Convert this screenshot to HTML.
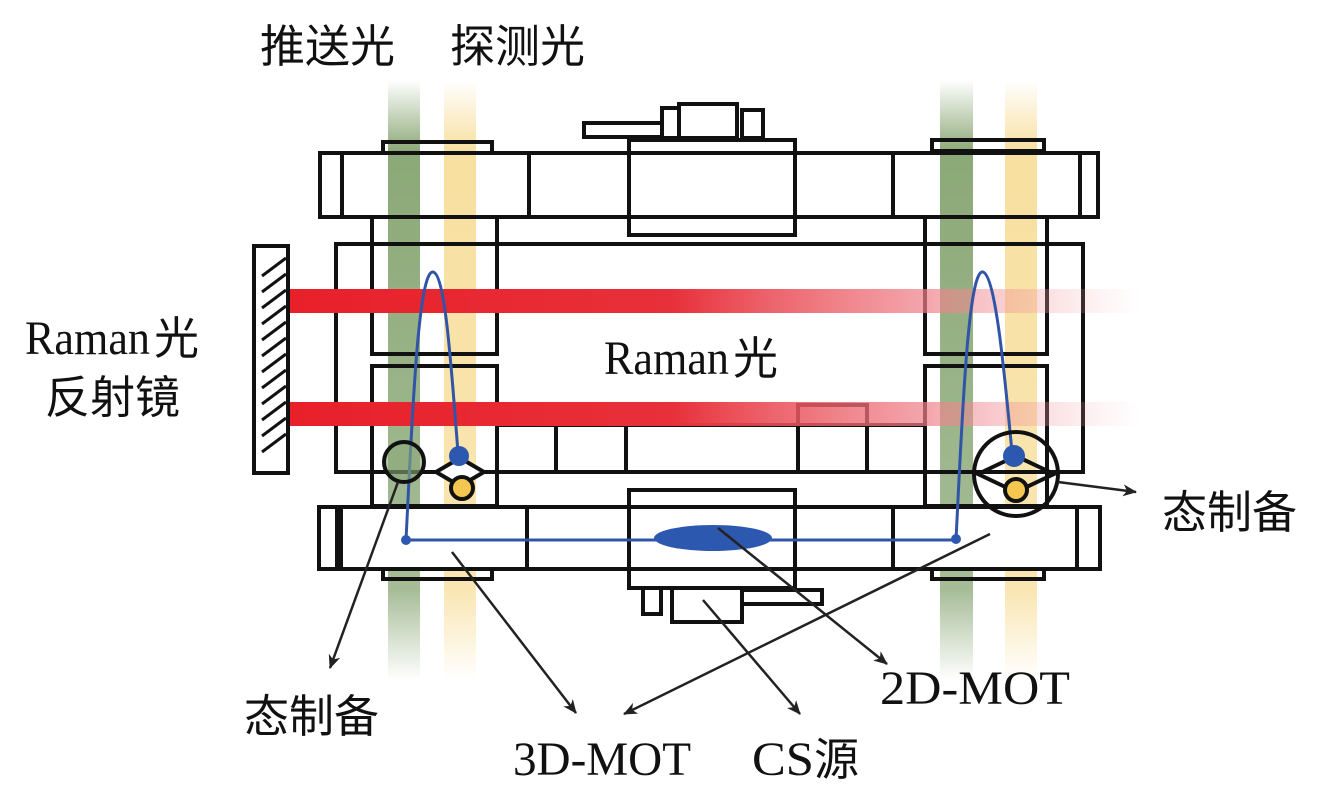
<!DOCTYPE html>
<html><head><meta charset="utf-8"><style>
html,body{margin:0;padding:0;background:#fff;}
svg{display:block;}
.s{font-family:"Liberation Serif","Noto Serif CJK SC",serif;}
.c{font-family:"Liberation Sans","Noto Sans CJK SC",sans-serif;font-weight:normal;}
</style></head><body>
<svg width="1327" height="812" viewBox="0 0 1327 812" xmlns="http://www.w3.org/2000/svg">
<defs>
<linearGradient id="gv" x1="0" y1="0" x2="0" y2="1">
<stop offset="0" stop-color="#4d7a2e" stop-opacity="0"/>
<stop offset="0.12" stop-color="#4d7a2e" stop-opacity="0.65"/>
<stop offset="0.85" stop-color="#4d7a2e" stop-opacity="0.5"/>
<stop offset="1" stop-color="#4d7a2e" stop-opacity="0"/>
</linearGradient>
<linearGradient id="yv" x1="0" y1="0" x2="0" y2="1">
<stop offset="0" stop-color="#f0c040" stop-opacity="0"/>
<stop offset="0.12" stop-color="#f0c040" stop-opacity="0.5"/>
<stop offset="0.85" stop-color="#f0c040" stop-opacity="0.4"/>
<stop offset="1" stop-color="#f0c040" stop-opacity="0"/>
</linearGradient>
<linearGradient id="rh" x1="0" y1="0" x2="1" y2="0">
<stop offset="0" stop-color="#e8202a"/>
<stop offset="0.45" stop-color="#e8303a"/>
<stop offset="0.75" stop-color="#ee8088" stop-opacity="0.7"/>
<stop offset="1" stop-color="#f4b0b8" stop-opacity="0"/>
</linearGradient>
<marker id="ah" markerWidth="14" markerHeight="12" refX="13" refY="6" orient="auto" markerUnits="userSpaceOnUse">
<path d="M0,0 L14,6 L0,12 L4,6 Z" fill="#222"/>
</marker>
</defs>

<rect x="388" y="80" width="32" height="600" fill="url(#gv)"/>
<rect x="444" y="80" width="32" height="600" fill="url(#yv)"/>
<rect x="940" y="80" width="33" height="600" fill="url(#gv)"/>
<rect x="1005" y="80" width="32" height="600" fill="url(#yv)"/>

<g fill="none" stroke="#111" stroke-width="4">
<rect x="584" y="123" width="78" height="14"/>
<rect x="662" y="108" width="17" height="30"/>
<rect x="679" y="104" width="58" height="34"/>
<rect x="742" y="110" width="21" height="28"/>
<rect x="383" y="142" width="109" height="11"/>
<rect x="932" y="140" width="112" height="11"/>
<rect x="320" y="153" width="778" height="64"/>
<line x1="342" y1="153" x2="342" y2="217"/>
<line x1="529" y1="153" x2="529" y2="217"/>
<line x1="893" y1="153" x2="893" y2="217"/>
<line x1="1080" y1="153" x2="1080" y2="217"/>
<rect x="629" y="140" width="166" height="95" fill="#fff"/>
<line x1="629" y1="153" x2="795" y2="153"/>
<line x1="629" y1="217" x2="795" y2="217"/>
<rect x="336" y="244" width="747" height="228"/>
<rect x="372" y="217" width="125" height="137"/>
<rect x="372" y="366" width="125" height="140"/>
<rect x="925" y="217" width="122" height="137"/>
<rect x="925" y="366" width="122" height="140"/>
<line x1="497" y1="425" x2="925" y2="425"/>
<line x1="556" y1="425" x2="556" y2="472"/>
<line x1="626" y1="405" x2="626" y2="472"/>
<rect x="798" y="405" width="69" height="67"/>
<rect x="254" y="246" width="34" height="227"/>
<rect x="319" y="507" width="781" height="62" fill="#fff"/>
<line x1="339" y1="507" x2="339" y2="569" stroke-width="8"/>
<line x1="527" y1="507" x2="527" y2="569"/>
<line x1="893" y1="507" x2="893" y2="569"/>
<line x1="1077" y1="507" x2="1077" y2="569"/>
<rect x="629" y="490" width="166" height="98" fill="#fff"/>
<line x1="629" y1="507" x2="795" y2="507"/>
<line x1="629" y1="569" x2="795" y2="569"/>
<rect x="383" y="569" width="109" height="10"/>
<rect x="932" y="569" width="112" height="10"/>
<rect x="643" y="588" width="18" height="26"/>
<rect x="672" y="588" width="70" height="34"/>
<rect x="742" y="590" width="80" height="14"/>
</g>
<g stroke="#111" stroke-width="3">
<line x1="286" y1="258" x2="262" y2="276"/><line x1="286" y1="274" x2="262" y2="292"/>
<line x1="286" y1="290" x2="262" y2="308"/><line x1="286" y1="306" x2="262" y2="324"/>
<line x1="286" y1="322" x2="262" y2="340"/><line x1="286" y1="338" x2="262" y2="356"/>
<line x1="286" y1="354" x2="262" y2="372"/><line x1="286" y1="370" x2="262" y2="388"/>
<line x1="286" y1="386" x2="262" y2="404"/><line x1="286" y1="402" x2="262" y2="420"/>
<line x1="286" y1="418" x2="262" y2="436"/><line x1="286" y1="434" x2="262" y2="452"/>
</g>
<rect x="290" y="289" width="850" height="24" fill="url(#rh)"/>
<rect x="290" y="402" width="850" height="24" fill="url(#rh)"/>
<g fill="none" stroke="#2f54a8" stroke-width="3">
<path d="M406,540 C412,420 418,270 433,272 C446,274 452,380 458,452"/>
<path d="M956,540 C962,420 968,268 983,272 C996,276 1005,380 1012,452"/>
<line x1="406" y1="540" x2="956" y2="540"/>
</g>
<ellipse cx="713" cy="538" rx="59" ry="13" fill="#2d58b0"/>
<circle cx="406" cy="540" r="5" fill="#2d58b0"/>
<circle cx="956" cy="539" r="5" fill="#2d58b0"/>
<circle cx="404" cy="462" r="20" fill="#8aa878" fill-opacity="0.6" stroke="#111" stroke-width="4"/>
<path d="M436,472 L460,458 L484,472 L460,486 Z" fill="#fff" stroke="#111" stroke-width="4"/>
<circle cx="462" cy="488" r="11" fill="#f4c850" stroke="#111" stroke-width="4"/>
<circle cx="459" cy="456" r="10" fill="#2d58b0"/>
<circle cx="1016" cy="474" r="42" fill="none" stroke="#111" stroke-width="4"/>
<path d="M978,474 L1016,456 L1054,474 L1016,492 Z" fill="none" stroke="#111" stroke-width="4"/>
<circle cx="1016" cy="490" r="11" fill="#f4c850" stroke="#111" stroke-width="4"/>
<circle cx="1014" cy="456" r="11" fill="#2d58b0"/>
<g stroke="#222" stroke-width="2.5" fill="none" marker-end="url(#ah)">
<line x1="398" y1="482" x2="330" y2="668"/>
<line x1="452" y1="552" x2="576" y2="713"/>
<line x1="990" y1="534" x2="624" y2="714"/>
<line x1="718" y1="528" x2="887" y2="664"/>
<line x1="703" y1="600" x2="800" y2="714"/>
<line x1="1058" y1="482" x2="1136" y2="492"/>
</g>
<g class="c" font-size="45" fill="#111">
<text x="260" y="62">推送光</text>
<text x="450" y="62">探测光</text>
<text x="45" y="413">反射镜</text>
<text x="244" y="732">态制备</text>
<text x="1162" y="528">态制备</text>
</g>
<g class="s" font-size="48" fill="#111">
<text x="25" y="354"><tspan textLength="125" lengthAdjust="spacingAndGlyphs">Raman</tspan><tspan class="c" font-size="45" dx="4">光</tspan></text>
<text x="604" y="374"><tspan textLength="125" lengthAdjust="spacingAndGlyphs">Raman</tspan><tspan class="c" font-size="45" dx="4">光</tspan></text>
<text x="513" y="775" textLength="178" lengthAdjust="spacingAndGlyphs">3D-MOT</text>
<text x="752" y="775"><tspan textLength="62" lengthAdjust="spacingAndGlyphs">CS</tspan><tspan class="c" font-size="45">源</tspan></text>
<text x="880" y="704" textLength="190" lengthAdjust="spacingAndGlyphs">2D-MOT</text>
</g>
</svg>
</body></html>
